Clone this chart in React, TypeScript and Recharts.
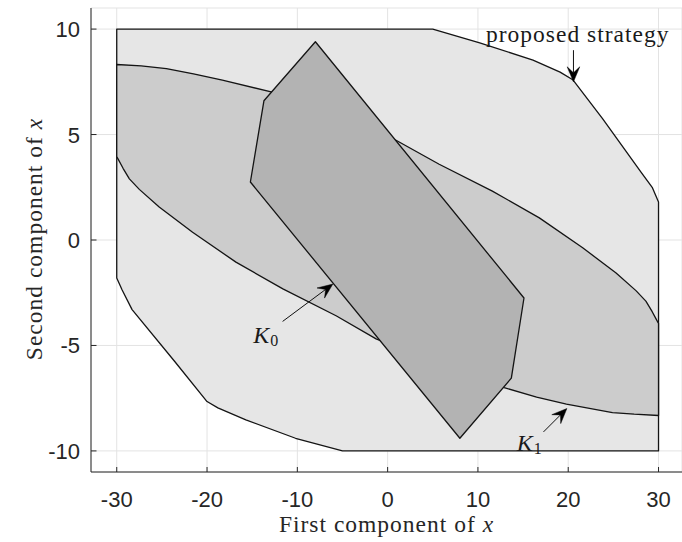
import React from 'react';
import { ScatterChart, Scatter, XAxis, YAxis, CartesianGrid } from 'recharts';

const xTicks = [-30, -20, -10, 0, 10, 20, 30];
const yTicks = [-10, -5, 0, 5, 10];

// outer region: "proposed strategy"
const strategyRegion = [
  { x: -30, y: 10 }, { x: 5, y: 10 }, { x: 10.2, y: 9.35 }, { x: 16.1, y: 8.53 },
  { x: 19.1, y: 7.96 }, { x: 20.5, y: 7.6 }, { x: 23.8, y: 5.75 }, { x: 28.1, y: 3.2 },
  { x: 29.3, y: 2.5 }, { x: 30, y: 1.8 }, { x: 30, y: -10 }, { x: -5, y: -10 },
  { x: -10.2, y: -9.4 }, { x: -15.7, y: -8.53 }, { x: -18.8, y: -7.96 }, { x: -20, y: -7.66 },
  { x: -23.6, y: -5.75 }, { x: -28.3, y: -3.3 }, { x: -29.4, y: -2.37 }, { x: -30, y: -1.8 },
];

// K1 region
const k1Region = [
  { x: -30, y: 8.32 }, { x: -27.3, y: 8.26 }, { x: -24.5, y: 8.13 }, { x: -21.5, y: 7.88 },
  { x: -18.3, y: 7.58 }, { x: -12.9, y: 7.02 }, { x: -6, y: 5.95 }, { x: 0.93, y: 4.73 },
  { x: 5.71, y: 3.59 }, { x: 11.6, y: 2.32 }, { x: 16.8, y: 1.05 }, { x: 21.6, y: -0.37 },
  { x: 25.3, y: -1.56 }, { x: 27.5, y: -2.4 }, { x: 28.6, y: -2.9 }, { x: 29.3, y: -3.4 },
  { x: 29.8, y: -3.8 }, { x: 30, y: -3.95 },
  { x: 30, y: -8.32 }, { x: 27.3, y: -8.26 }, { x: 24.9, y: -8.18 }, { x: 19.8, y: -7.78 },
  { x: 16.5, y: -7.45 }, { x: 12.9, y: -7.0 }, { x: 6, y: -5.95 }, { x: -1.28, y: -4.69 },
  { x: -5.71, y: -3.59 }, { x: -11.6, y: -2.32 }, { x: -16.8, y: -1.05 }, { x: -21.6, y: 0.37 },
  { x: -25.3, y: 1.56 }, { x: -27.5, y: 2.4 }, { x: -28.6, y: 2.9 }, { x: -29.3, y: 3.4 },
  { x: -29.8, y: 3.8 }, { x: -30, y: 3.95 },
];

// K0 region
const k0Region = [
  { x: -8, y: 9.4 }, { x: -13.7, y: 6.6 }, { x: -15.2, y: 2.75 },
  { x: 8, y: -9.4 }, { x: 13.7, y: -6.55 }, { x: 15.1, y: -2.75 },
];

// annotations
const psArrow = [{ x: 20.58, y: 9.0 }, { x: 20.58, y: 7.5 }];
const k0Arrow = [{ x: -11.63, y: -3.86 }, { x: -6.07, y: -2.09 }];
const k1Arrow = [{ x: 17.26, y: -9.1 }, { x: 19.85, y: -7.99 }];
const psLabel = [{ x: 21.05, y: 9.38 }];
const k0Label = [{ x: -14.87, y: -4.88 }];
const k1Label = [{ x: 14.31, y: -10.0 }];

const SERIF = "'Liberation Serif', 'Times New Roman', serif";
const SANS = "'Liberation Sans', Arial, Helvetica, sans-serif";
const TXT = '#262626';

const regionShape = (fill: string) => (props: any) => {
  const pts = props.points || [];
  const d = pts.map((p: any) => `${p.x},${p.y}`).join(' ');
  return (
    <polygon points={d} fill={fill} stroke="#141414" strokeWidth={1.3} strokeLinejoin="round" />
  );
};

const arrowShape = (props: any) => {
  const pts = props.points || [];
  if (pts.length < 2) return <g />;
  const a = pts[0];
  const b = pts[1];
  const dx = b.x - a.x;
  const dy = b.y - a.y;
  const len = Math.hypot(dx, dy) || 1;
  const ux = dx / len;
  const uy = dy / len;
  const nx = -uy;
  const ny = ux;
  const L = 15;
  const W = 6.3;
  const N = 9;
  const bx = b.x - ux * L;
  const by = b.y - uy * L;
  const head = [
    [b.x, b.y],
    [bx + nx * W, by + ny * W],
    [b.x - ux * N, b.y - uy * N],
    [bx - nx * W, by - ny * W],
  ]
    .map((p) => `${p[0]},${p[1]}`)
    .join(' ');
  return (
    <g>
      <line x1={a.x} y1={a.y} x2={b.x - ux * N} y2={b.y - uy * N} stroke="#111" strokeWidth={1} />
      <polygon points={head} fill="#000" stroke="#000" strokeWidth={0.5} />
    </g>
  );
};

const noDot = () => <g />;

const XTick = (props: any) => {
  const { x, y, payload } = props;
  return (
    <g>
      <line x1={x} y1={y} x2={x} y2={y - 5} stroke={TXT} strokeWidth={1} />
      <text x={x} y={y + 35} textAnchor="middle" fontFamily={SANS} fontSize={22} fill={TXT}>
        {payload.value}
      </text>
    </g>
  );
};

const YTick = (props: any) => {
  const { x, y, payload } = props;
  return (
    <g>
      <line x1={x} y1={y} x2={x + 5.5} y2={y} stroke={TXT} strokeWidth={1} />
      <text x={x - 11} y={y + 8} textAnchor="end" fontFamily={SANS} fontSize={22} fill={TXT}>
        {payload.value}
      </text>
    </g>
  );
};

const XLabel = (props: any) => {
  const vb = props.viewBox || { x: 91, y: 472, width: 591, height: 70 };
  return (
    <text
      x={vb.x + vb.width / 2}
      y={vb.y + 60}
      textAnchor="middle"
      fontFamily={SERIF}
      fontSize={23.5}
      letterSpacing={1}
      fill={TXT}
    >
      First component of <tspan fontStyle="italic">x</tspan>
    </text>
  );
};

const YLabel = (props: any) => {
  const vb = props.viewBox || { x: 0, y: 8, width: 91, height: 464 };
  const cy = vb.y + vb.height / 2 - 1;
  const bx = 42;
  return (
    <text
      x={bx}
      y={cy}
      transform={`rotate(-90, ${bx}, ${cy})`}
      textAnchor="middle"
      fontFamily={SERIF}
      fontSize={23.5}
      letterSpacing={1}
      fill={TXT}
    >
      Second component of <tspan fontStyle="italic">x</tspan>
    </text>
  );
};

const psText = (p: any) => (
  <text x={p.cx} y={p.cy} textAnchor="middle" fontFamily={SERIF} fontSize={23.5} letterSpacing={1} fill="#1a1a1a">
    proposed strategy
  </text>
);

const kText = (sub: string) => (p: any) => (
  <text x={p.cx} y={p.cy} textAnchor="start" fontFamily={SERIF} fontSize={24} fill="#1a1a1a">
    <tspan fontStyle="italic">K</tspan>
    <tspan fontSize={16} dy={3} dx={1}>{sub}</tspan>
  </text>
);

export default function App() {
  return (
    <div style={{ position: 'absolute', left: 0, top: 0, width: 682, height: 542, background: '#fff' }}>
      <ScatterChart width={682} height={542} margin={{ top: 8, right: 0, bottom: 0, left: 0 }}>
        <CartesianGrid stroke="#e3e3e3" strokeWidth={1} />
        <XAxis
          type="number"
          dataKey="x"
          domain={[-32.85, 32.6]}
          ticks={xTicks}
          allowDataOverflow
          height={70}
          tickSize={0}
          tickMargin={0}
          tickLine={false}
          tick={<XTick />}
          axisLine={{ stroke: TXT, strokeWidth: 1 }}
          label={<XLabel />}
        />
        <YAxis
          type="number"
          dataKey="y"
          domain={[-11, 11]}
          ticks={yTicks}
          allowDataOverflow
          width={91}
          tickSize={0}
          tickMargin={0}
          tickLine={false}
          tick={<YTick />}
          axisLine={{ stroke: TXT, strokeWidth: 1 }}
          label={<YLabel />}
        />
        <Scatter data={strategyRegion} line={regionShape('#e6e6e6')} shape={noDot} isAnimationActive={false} />
        <Scatter data={k1Region} line={regionShape('#cccccc')} shape={noDot} isAnimationActive={false} />
        <Scatter data={k0Region} line={regionShape('#b3b3b3')} shape={noDot} isAnimationActive={false} />
        <Scatter data={psArrow} line={arrowShape} shape={noDot} isAnimationActive={false} />
        <Scatter data={k0Arrow} line={arrowShape} shape={noDot} isAnimationActive={false} />
        <Scatter data={k1Arrow} line={arrowShape} shape={noDot} isAnimationActive={false} />
        <Scatter data={psLabel} shape={psText} isAnimationActive={false} />
        <Scatter data={k0Label} shape={kText('0')} isAnimationActive={false} />
        <Scatter data={k1Label} shape={kText('1')} isAnimationActive={false} />
      </ScatterChart>
    </div>
  );
}
